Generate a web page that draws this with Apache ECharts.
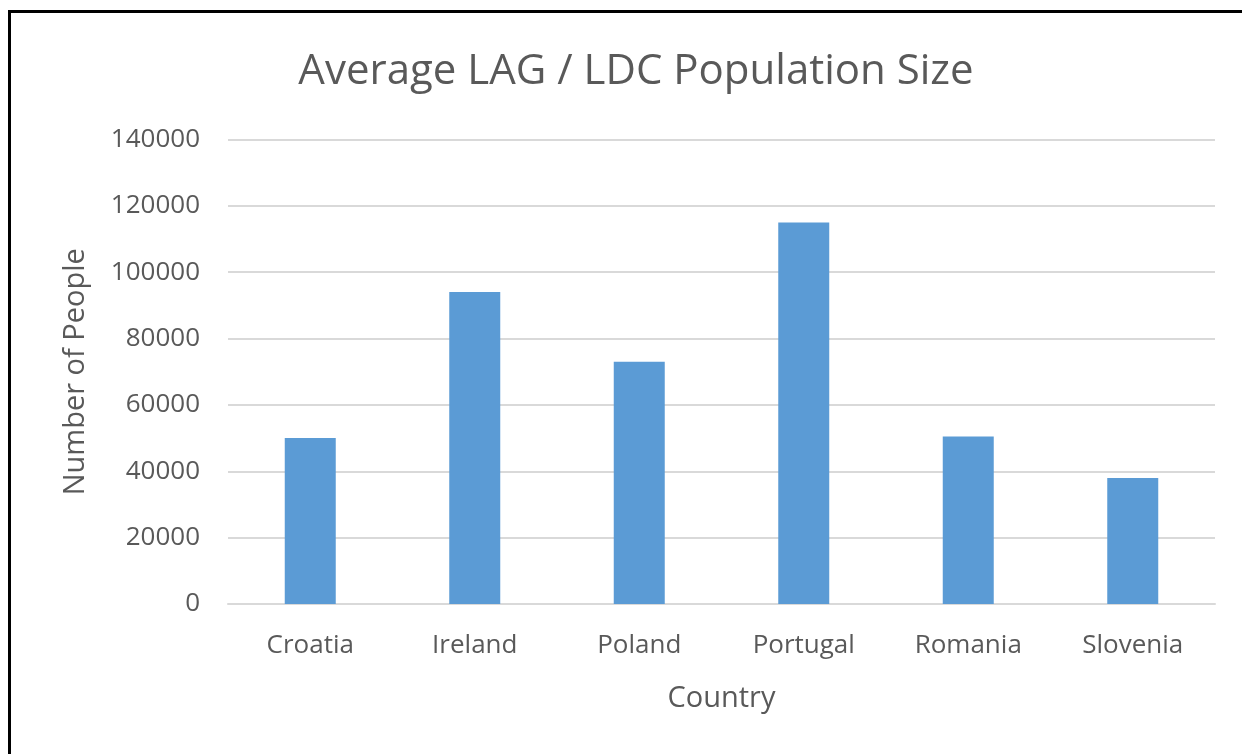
<!DOCTYPE html>
<html><head><meta charset="utf-8">
<script src="https://cdn.jsdelivr.net/npm/echarts@6/dist/echarts.min.js"></script>
<style>
html,body{margin:0;padding:0;background:#fff;overflow:hidden;}
#frame{position:absolute;left:8px;top:10px;width:1300px;height:800px;border:3px solid #000;box-sizing:border-box;}
#main{position:absolute;left:0;top:0;width:1242px;height:754px;}
</style></head>
<body>
<div id="frame"></div>
<div id="main"></div>
<script>
const categories = ['Croatia','Ireland','Poland','Portugal','Romania','Slovenia'];
const values = [50000, 94000, 73000, 115000, 50500, 38000];
const chartTitle = 'Average LAG / LDC Population Size';
const yName = 'Number of People';
const xName = 'Country';
const font = 'Open Sans';
const chart = echarts.init(document.getElementById('main'), null, {renderer:'canvas'});
chart.setOption({
  animation:false,
  backgroundColor:'transparent',
  title:{text:chartTitle,left:631,top:46,textAlign:'center',
    textStyle:{fontFamily:font,fontSize:42,fontWeight:'normal',color:'#595959'}},
  grid:{left:228,right:27,top:139.5,bottom:150,containLabel:false},
  xAxis:{type:'category',data:categories,
    name:xName,nameLocation:'middle',nameGap:80,
    nameTextStyle:{fontFamily:font,fontSize:29,color:'#595959'},
    axisLine:{show:true,lineStyle:{color:'#d9d9d9',width:2}},
    axisTick:{show:false},
    axisLabel:{fontFamily:font,fontSize:26,color:'#595959',margin:29}},
  yAxis:{type:'value',min:0,max:140000,interval:20000,
    name:yName,nameLocation:'middle',nameGap:138,
    nameTextStyle:{fontFamily:font,fontSize:29,color:'#595959'},
    axisLine:{show:false},axisTick:{show:false},
    splitLine:{lineStyle:{color:'#d9d9d9',width:2}},
    axisLabel:{fontFamily:font,fontSize:26,color:'#595959',margin:28,
      formatter:function(v){return String(v);}}},
  series:[{type:'bar',data:values,barWidth:'31%',
    itemStyle:{color:'#5b9bd5'}}]
});
</script>
</body></html>
